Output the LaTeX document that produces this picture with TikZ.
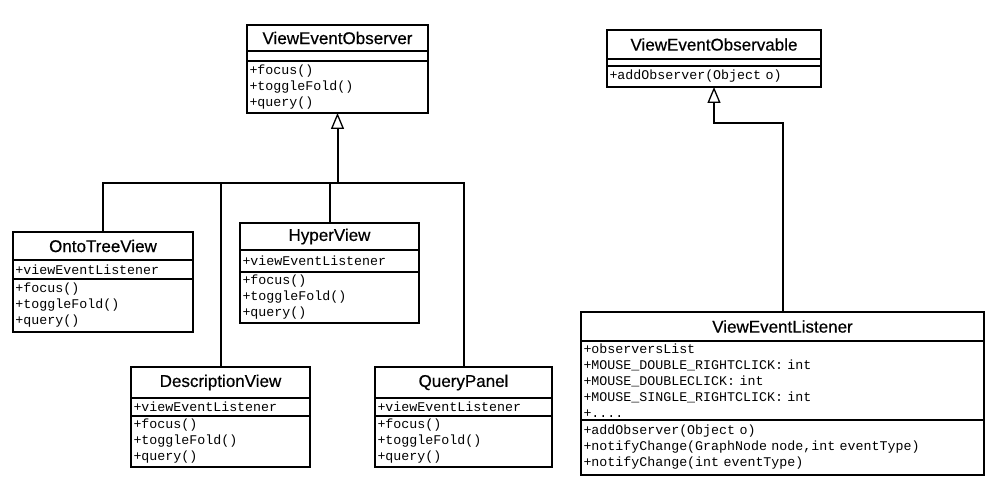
\documentclass[tikz,border=0pt]{standalone}
\usepackage{fontspec}
\usetikzlibrary{arrows.meta, positioning}
\newfontfamily\umlsans{Liberation Sans}[FakeBold=0.5]
\newfontfamily\umlmono{Liberation Mono}
\newcommand{\classfont}{\umlsans\fontsize{17}{20}\selectfont}
\newcommand{\memberfont}{\umlmono\fontsize{13.3}{16}\selectfont\spaceskip=0.6em\relax}

\begin{document}
\begin{tikzpicture}[
    x=1pt, y=-1pt,
    cell/.style={draw, line width=2pt, inner sep=0pt, outer sep=0pt},
    head/.style={cell, font=\classfont, anchor=north},
    members/.style={cell, font=\memberfont, align=left, inner xsep=2.5pt},
    gen/.style={-{Triangle[open, length=16pt, width=13pt, line width=1.3pt]}, line width=2pt},
    link/.style={line width=2pt}
]
\useasboundingbox (0,0) rectangle (995,497);

% interfaces
\node[head, minimum width=181pt, minimum height=26pt] (obs) at (337.5,25) {ViewEventObserver};
\node[cell, minimum width=181pt, minimum height=10pt, below=0pt of obs] (obsAttr) {};
\node[members, text width=176pt, minimum height=52pt, below=0pt of obsAttr] (obsOps) {+focus()\\+toggleFold()\\+query()};

\node[head, minimum width=214pt, minimum height=29pt] (obl) at (714,30) {ViewEventObservable};
\node[cell, minimum width=214pt, minimum height=7pt, below=0pt of obl] (oblAttr) {};
\node[members, text width=209pt, minimum height=21pt, below=0pt of oblAttr] (oblOps) {+addObserver(Object o)};

% views
\node[head, minimum width=180pt, minimum height=28pt] (otv) at (103,232) {OntoTreeView};
\node[members, text width=175pt, minimum height=19pt, below=0pt of otv] (otvAttr) {+viewEventListener};
\node[members, text width=175pt, minimum height=53pt, below=0pt of otvAttr] (otvOps) {+focus()\\+toggleFold()\\+query()};

\node[head, minimum width=179pt, minimum height=27pt] (hv) at (329.5,223) {HyperView};
\node[members, text width=174pt, minimum height=22pt, below=0pt of hv] (hvAttr) {+viewEventListener};
\node[members, text width=174pt, minimum height=51pt, below=0pt of hvAttr] (hvOps) {+focus()\\+toggleFold()\\+query()};

\node[head, minimum width=179pt, minimum height=31pt] (dv) at (220.5,367) {DescriptionView};
\node[members, text width=174pt, minimum height=18pt, below=0pt of dv] (dvAttr) {+viewEventListener};
\node[members, text width=174pt, minimum height=51pt, below=0pt of dvAttr] (dvOps) {+focus()\\+toggleFold()\\+query()};

\node[head, minimum width=177pt, minimum height=31pt] (qp) at (463.5,367) {QueryPanel};
\node[members, text width=172pt, minimum height=18pt, below=0pt of qp] (qpAttr) {+viewEventListener};
\node[members, text width=172pt, minimum height=51pt, below=0pt of qpAttr] (qpOps) {+focus()\\+toggleFold()\\+query()};

% listener
\node[head, minimum width=403pt, minimum height=29pt] (vel) at (782.5,312) {ViewEventListener};
\node[members, text width=398pt, minimum height=79pt, below=0pt of vel] (velAttr) {+observersList\\+MOUSE\_DOUBLE\_RIGHTCLICK: int\\+MOUSE\_DOUBLECLICK: int\\+MOUSE\_SINGLE\_RIGHTCLICK: int\\+....};
\node[members, text width=398pt, minimum height=55pt, below=0pt of velAttr] (velOps) {+addObserver(Object o)\\+notifyChange(GraphNode node,int eventType)\\+notifyChange(int eventType)};

% generalizations
\coordinate (bus) at (obsOps.south |- 0,183);
\draw[link] (otv.north) |- (qp.north |- bus) -- (qp.north);
\draw[link] (hv.north) -- (hv.north |- bus);
\draw[link] (dv.north) -- (dv.north |- bus);
\draw[gen] (bus) -- (obsOps.south);

\draw[gen] (vel.north) |- (oblOps.south |- 0,123) -- (oblOps.south);

\end{tikzpicture}
\end{document}
